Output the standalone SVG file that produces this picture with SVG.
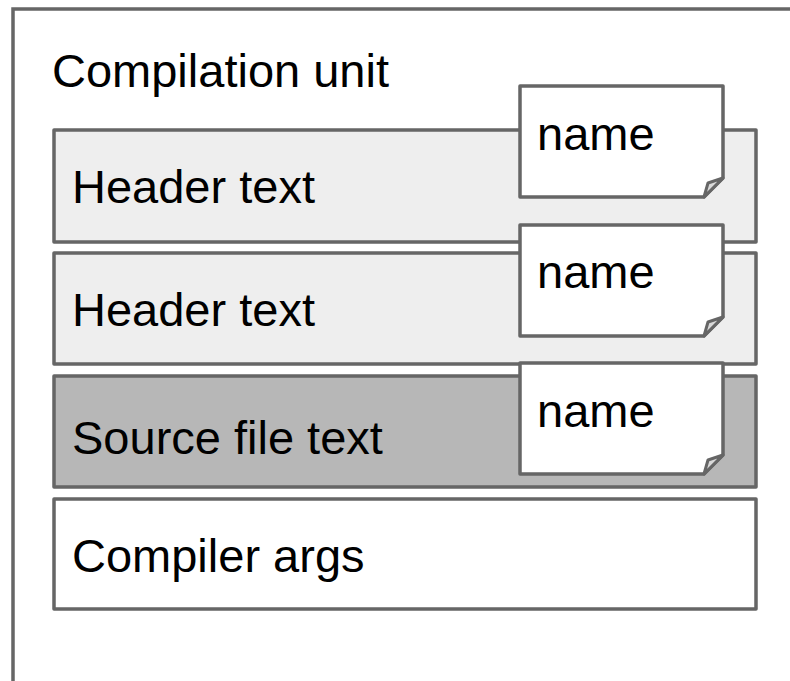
<svg xmlns="http://www.w3.org/2000/svg" width="790" height="681" viewBox="0 0 790 681">
<style>
.frame{fill:#ffffff;stroke:#666666;stroke-width:3.5}
.box{stroke:#666666;stroke-width:3.5;stroke-linejoin:round}
.note{fill:#ffffff;stroke:#666666;stroke-width:3.5;stroke-linejoin:round}
.fold{fill:#d9d9d9;stroke:#666666;stroke-width:3;stroke-linejoin:round}
text{font-family:"Liberation Sans",Arial,sans-serif;font-size:47px;fill:#000000}
</style>
<rect width="790" height="681" fill="#ffffff"/>
<g id="compilation-unit">
<rect class="frame" x="13" y="9" width="800" height="700"/>
<text x="52" y="87">Compilation unit</text>
</g>
<g id="header1">
<rect class="box" x="54" y="130" width="702" height="112" fill="#eeeeee"/>
<text x="72" y="203">Header text</text>
</g>
<g id="header2">
<rect class="box" x="54" y="253" width="702" height="111" fill="#eeeeee"/>
<text x="72" y="326">Header text</text>
</g>
<g id="source">
<rect class="box" x="54" y="376" width="702" height="111" fill="#b7b7b7"/>
<text x="72" y="454">Source file text</text>
</g>
<g id="args">
<rect class="box" x="54" y="499" width="702" height="110" fill="#ffffff"/>
<text x="72" y="572">Compiler args</text>
</g>
<g id="name1">
<path class="note" d="M520,86 H723 V178 L704,197 H520 Z"/>
<path class="fold" d="M704,197 L708,183 L723,178 Z"/>
<text x="537" y="150">name</text>
</g>
<g id="name2">
<path class="note" d="M520,225 H723 V317 L704,336 H520 Z"/>
<path class="fold" d="M704,336 L708,322 L723,317 Z"/>
<text x="537" y="288">name</text>
</g>
<g id="name3">
<path class="note" d="M520,363 H723 V455 L704,474 H520 Z"/>
<path class="fold" d="M704,474 L708,460 L723,455 Z"/>
<text x="537" y="427">name</text>
</g>
<g id="connectors"></g>
</svg>
